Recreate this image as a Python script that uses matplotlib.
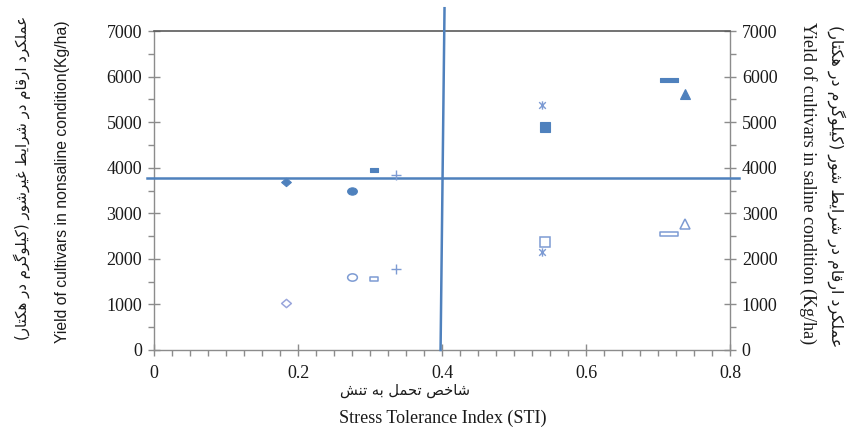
import numpy as np
import matplotlib
matplotlib.use("Agg")
import matplotlib.pyplot as plt
from matplotlib.path import Path

# ---------------- data ----------------
sti = [0.183, 0.275, 0.306, 0.336, 0.543, 0.539, 0.715, 0.7375]
yield_nonsaline = [3676, 3479, 3939, 3851, 4902, 5383, 5930, 5624]
yield_saline = [1028, 1597, 1553, 1772, 2363, 2144, 2538, 2757]
mean_yield = 3785          # horizontal reference line
sti_line_x = [0.398, 0.4035]  # vertical reference line (bottom, top)
sti_line_y = [0, 7500]
hline_x = [-0.01, 0.8125]

xlabel_en = "Stress Tolerance Index (STI)"
xlabel_fa = "شاخص تحمل به تنش"
ylabel_left_en = "Yield of cultivars in nonsaline condition(Kg/ha)"
ylabel_left_fa = "عملکرد ارقام در شرایط غیرشور (کیلوگرم در هکتار)"
ylabel_right_en = "Yield of cultivars in saline condition (Kg/ha)"
ylabel_right_fa = "عملکرد ارقام در شرایط شور (کیلوگرم در هکتار)"

# ---------------- simple Persian shaping ----------------
FORMS = {
    'ا': (0xFE8D, 0xFE8E, None, None),
    'ب': (0xFE8F, 0xFE90, 0xFE91, 0xFE92),
    'ت': (0xFE95, 0xFE96, 0xFE97, 0xFE98),
    'ح': (0xFEA1, 0xFEA2, 0xFEA3, 0xFEA4),
    'خ': (0xFEA5, 0xFEA6, 0xFEA7, 0xFEA8),
    'د': (0xFEA9, 0xFEAA, None, None),
    'ر': (0xFEAD, 0xFEAE, None, None),
    'ز': (0xFEAF, 0xFEB0, None, None),
    'س': (0xFEB1, 0xFEB2, 0xFEB3, 0xFEB4),
    'ش': (0xFEB5, 0xFEB6, 0xFEB7, 0xFEB8),
    'ص': (0xFEB9, 0xFEBA, 0xFEBB, 0xFEBC),
    'ط': (0xFEC1, 0xFEC2, 0xFEC3, 0xFEC4),
    'ع': (0xFEC9, 0xFECA, 0xFECB, 0xFECC),
    'غ': (0xFECD, 0xFECE, 0xFECF, 0xFED0),
    'ف': (0xFED1, 0xFED2, 0xFED3, 0xFED4),
    'ق': (0xFED5, 0xFED6, 0xFED7, 0xFED8),
    'ک': (0xFB8E, 0xFB8F, 0xFB90, 0xFB91),
    'گ': (0xFB92, 0xFB93, 0xFB94, 0xFB95),
    'ل': (0xFEDD, 0xFEDE, 0xFEDF, 0xFEE0),
    'م': (0xFEE1, 0xFEE2, 0xFEE3, 0xFEE4),
    'ن': (0xFEE5, 0xFEE6, 0xFEE7, 0xFEE8),
    'ه': (0xFEE9, 0xFEEA, 0xFEEB, 0xFEEC),
    'و': (0xFEED, 0xFEEE, None, None),
    'ی': (0xFBFC, 0xFBFD, 0xFBFE, 0xFBFF),
}


def shape(s):
    out = []
    for i, c in enumerate(s):
        if c not in FORMS:
            out.append(c)
            continue
        prev = s[i - 1] if i > 0 else None
        nxt = s[i + 1] if i + 1 < len(s) else None
        jp = prev in FORMS and FORMS[prev][2] is not None
        jn = nxt in FORMS and FORMS[c][2] is not None
        iso, fin, ini, med = FORMS[c]
        if jp and jn:
            g = med
        elif jp:
            g = fin
        elif jn:
            g = ini
        else:
            g = iso
        out.append(chr(g))
    vis = ''.join(out)[::-1]
    return vis.translate(str.maketrans('()', ')('))


# ---------------- custom markers ----------------
def rect(w, h):
    return Path([(-w, -h), (w, -h), (w, h), (-w, h), (-w, -h)],
                [Path.MOVETO, Path.LINETO, Path.LINETO, Path.LINETO, Path.CLOSEPOLY])


def ellipse(ry):
    c = Path.unit_circle()
    v = c.vertices.copy()
    v[:, 1] *= ry
    return Path(v, c.codes)


def diamond(ry):
    return Path([(0, -ry), (1, 0), (0, ry), (-1, 0), (0, -ry)],
                [Path.MOVETO, Path.LINETO, Path.LINETO, Path.LINETO, Path.CLOSEPOLY])


asterisk = Path([(0, -1), (0, 1), (-0.8, -0.8), (0.8, 0.8), (-0.8, 0.8), (0.8, -0.8)],
                [Path.MOVETO, Path.LINETO, Path.MOVETO, Path.LINETO, Path.MOVETO, Path.LINETO])

# marker, size(pt), filled?
styles = [
    (diamond(0.85), 7.0, True),
    (ellipse(0.75), 7.0, True),
    (rect(1, 0.4), 6.0, True),
    ('+', 6.5, None),
    ('s', 6.5, True),
    (asterisk, 6.0, None),
    (rect(1, 0.17), 13.5, True),
    ('^', 6.5, True),
]

BLUE = '#4F81BD'
LIGHT = '#7D9BD3'
LAV = '#9AA6DC'

fig = plt.figure(figsize=(8.5, 4.34), dpi=100)
ax = fig.add_axes([154 / 850, 1 - 350 / 434, (730 - 154) / 850, (350 - 31) / 434])

for i, (x, yn, ys) in enumerate(zip(sti, yield_nonsaline, yield_saline)):
    m, ms, filled = styles[i]
    if filled is None:
        ax.plot([x], [yn], marker=m, ms=ms, ls='none', color=LIGHT, mew=1.0,
                fillstyle='none', zorder=4)
        ax.plot([x], [ys], marker=m, ms=ms, ls='none', color=LIGHT, mew=1.0,
                fillstyle='none', zorder=4)
    else:
        ax.plot([x], [yn], marker=m, ms=ms, ls='none', mfc=BLUE, mec=BLUE, mew=0.8, zorder=4)
        ec = LAV if i == 0 else LIGHT
        ax.plot([x], [ys], marker=m, ms=ms, ls='none', mfc='white', mec=ec, mew=1.1, zorder=4)

ax.plot(hline_x, [mean_yield, mean_yield], color=BLUE, lw=1.8, clip_on=False, zorder=3)
ax.plot(sti_line_x, sti_line_y, color=BLUE, lw=1.8, clip_on=False, zorder=3)

ax.set_xlim(0, 0.8)
ax.set_ylim(0, 7000)
ax.set_xticks([0, 0.2, 0.4, 0.6, 0.8])
ax.set_xticklabels(['0', '0.2', '0.4', '0.6', '0.8'])
ax.set_xticks(np.arange(0, 0.8001, 0.025), minor=True)
ax.set_yticks(np.arange(0, 7001, 1000))
ax.set_yticks(np.arange(0, 7001, 500), minor=True)

GRAY = '#8C8C8C'
for s in ['left', 'bottom', 'right']:
    ax.spines[s].set_color(GRAY)
    ax.spines[s].set_linewidth(1.0)
ax.spines['top'].set_color('#5A5A5A')
ax.spines['top'].set_linewidth(1.2)

ax.tick_params(axis='both', which='major', direction='inout', length=9, width=1,
               color=GRAY, labelsize=13, labelcolor='#1a1a1a', pad=3)
ax.tick_params(axis='both', which='minor', direction='out', length=4, width=1, color=GRAY)
ax.tick_params(axis='y', which='both', left=True, right=True, labelleft=True, labelright=True)
ax.tick_params(axis='y', which='major', pad=4)
ax.tick_params(axis='x', which='major', pad=6)
for lab in ax.get_xticklabels() + ax.get_yticklabels():
    lab.set_fontfamily('Liberation Serif')

# axis labels
fa_font = ['DejaVu Sans']
fig.text(22 / 850, 1 - 178 / 434, shape(ylabel_left_fa), rotation=90, ha='center', va='center',
         family=fa_font, fontsize=10.8, color='#1a1a1a')
fig.text(63 / 850, 1 - 182 / 434, ylabel_left_en, rotation=90, ha='center', va='center',
         family='Liberation Sans', fontsize=11.3, color='#1a1a1a')
fig.text(808 / 850, 1 - 183 / 434, ylabel_right_en, rotation=-90, ha='center', va='center',
         family='Liberation Serif', fontsize=13, color='#1a1a1a')
fig.text(836 / 850, 1 - 186 / 434, shape(ylabel_right_fa), rotation=-90, ha='center', va='center',
         family=fa_font, fontsize=11.4, color='#1a1a1a')
fig.text(405 / 850, 1 - 391 / 434, shape(xlabel_fa), ha='center', va='center',
         family=fa_font, fontsize=10.5, color='#1a1a1a')
fig.text(443 / 850, 1 - 418 / 434, xlabel_en, ha='center', va='center',
         family='Liberation Serif', fontsize=13, color='#1a1a1a')

fig.savefig('out.png', dpi=100)
